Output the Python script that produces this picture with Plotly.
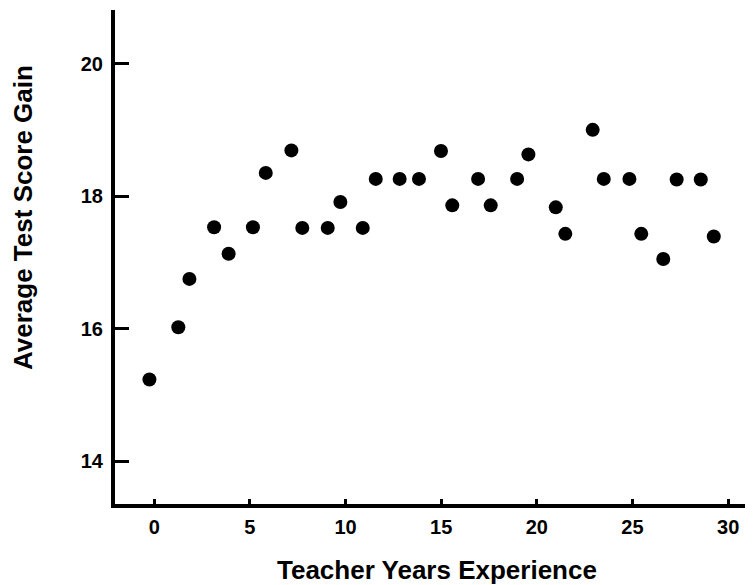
import plotly.graph_objects as go

# Data
years_experience = [-0.25, 1.26, 1.84, 3.13, 3.89, 5.16, 5.83, 7.17, 7.74, 9.07, 9.73, 10.9,
                    11.58, 12.83, 13.84, 14.99, 15.58, 16.93, 17.59, 18.97, 19.56,
                    20.99, 21.49, 22.92, 23.5, 24.84, 25.46, 26.61, 27.31, 28.57, 29.25]
score_gain = [15.23, 16.02, 16.75, 17.53, 17.13, 17.53, 18.35, 18.69, 17.52, 17.52, 17.91, 17.52,
              18.26, 18.26, 18.26, 18.68, 17.86, 18.26, 17.86, 18.26, 18.63,
              17.83, 17.43, 19.0, 18.26, 18.26, 17.43, 17.05, 18.25, 18.25, 17.39]

x_ticks = [0, 5, 10, 15, 20, 25, 30]
y_ticks = [14, 16, 18, 20]
x_title = "Teacher Years Experience"
y_title = "Average Test Score Gain"

FONT = "Liberation Sans, Arial, sans-serif"

# page body has an 8px margin, so the figure is 8px smaller than the window
W, H = 745, 577
L, R, T, B = 107, 0, 2, 81
PW, PH = W - L - R, H - T - B


def px_to_paper(xf, yf):
    return (xf - L) / PW, (H - B - yf) / PH


fig = go.Figure()
fig.add_trace(go.Scatter(
    x=years_experience, y=score_gain, mode="markers",
    marker=dict(size=14, color="black", line=dict(width=0)),
    showlegend=False,
))

xt_x, xt_y = px_to_paper(429, 562)
yt_x, yt_y = px_to_paper(15, 210)

fig.update_layout(
    width=W, height=H,
    margin=dict(l=L, r=R, t=T, b=B, autoexpand=False),
    paper_bgcolor="white", plot_bgcolor="white",
    font=dict(family=FONT, color="black"),
    xaxis=dict(
        range=[-2.05, 31.30], tickvals=x_ticks, ticktext=[str(v) for v in x_ticks],
        showline=True, linewidth=4, linecolor="black", mirror=False,
        ticks="inside", ticklen=5, tickwidth=3, tickcolor="black",
        showgrid=False, zeroline=False,
        tickfont=dict(family=FONT, size=20, color="black", weight="bold"),
        ticklabelstandoff=2,
    ),
    yaxis=dict(
        range=[13.351, 20.81], tickvals=y_ticks, ticktext=[str(v) for v in y_ticks],
        showline=True, linewidth=4, linecolor="black", mirror=False,
        ticks="inside", ticklen=14, tickwidth=3, tickcolor="black",
        showgrid=False, zeroline=False,
        tickfont=dict(family=FONT, size=20, color="black", weight="bold"),
        ticklabelstandoff=4,
    ),
    annotations=[
        dict(text=x_title, xref="paper", yref="paper", x=xt_x, y=xt_y,
             xanchor="center", yanchor="middle", showarrow=False,
             font=dict(family=FONT, size=26, color="black", weight="bold")),
        dict(text=y_title, xref="paper", yref="paper", x=yt_x, y=yt_y,
             xanchor="center", yanchor="middle", showarrow=False, textangle=-90,
             font=dict(family=FONT, size=26, color="black", weight="bold")),
    ],
)

fig.write_html("out.html")
